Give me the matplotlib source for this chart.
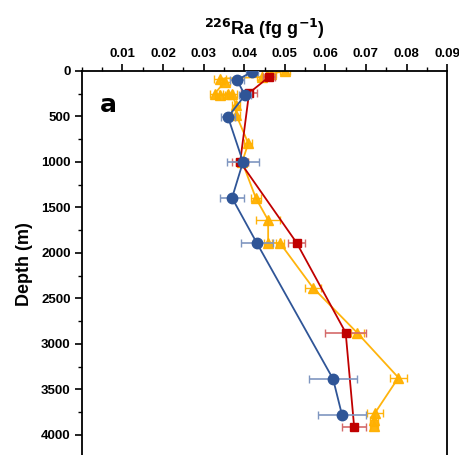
#!/usr/bin/env python
"""226Ra depth profiles, panel a."""

# Third party modules.
import matplotlib
matplotlib.use("Agg")
import matplotlib.pyplot as plt
from matplotlib.ticker import MultipleLocator

# Globals and constants variables.
plt.rcParams['font.family'] = ['Liberation Sans', 'DejaVu Sans']

BLUE = "#2F5597"
RED = "#C00000"
ORANGE = "#FFB000"

# Blue station (circles)
blueRa = [0.0419, 0.0382, 0.0402, 0.0360, 0.0397, 0.0370, 0.0431, 0.0619, 0.0641]
blueErr = [0.0015, 0.0017, 0.0015, 0.0018, 0.0040, 0.0030, 0.0040, 0.0060, 0.0060]
blueDepth_m = [10, 100, 265, 505, 1000, 1395, 1890, 3385, 3780]

# Red station (squares)
redRa = [0.0461, 0.0412, 0.0390, 0.0529, 0.0650, 0.0671]
redErr = [0.0015, 0.0019, 0.0020, 0.0020, 0.0050, 0.0030]
redDepth_m = [66, 242, 1000, 1887, 2875, 3915]

# Orange station (triangles)
orangeRa = [0.0500, 0.0467, 0.0455, 0.0443, 0.0340, 0.0352, 0.0327, 0.0340,
            0.0360, 0.0370, 0.0380, 0.0380, 0.0410, 0.0395, 0.0429, 0.0459,
            0.0459, 0.0488, 0.0569, 0.0679, 0.0780, 0.0722, 0.0720, 0.0720]
orangeErr = [0.0012, 0.0012, 0.0012, 0.0012, 0.0015, 0.0012, 0.0012, 0.0012,
             0.0012, 0.0012, 0.0010, 0.0010, 0.0010, 0.0015, 0.0012, 0.0029,
             0.0010, 0.0010, 0.0020, 0.0017, 0.0020, 0.0020, 0.0010, 0.0010]
orangeDepth_m = [0, 30, 40, 66, 85, 120, 250, 265, 250, 250, 375, 480, 795,
                 1000, 1400, 1640, 1890, 1890, 2380, 2880, 3370, 3760, 3840, 3900]


def doGraphics():
    fig = plt.figure(figsize=(4.6, 4.55), dpi=100)
    ax = fig.add_axes([0.178, -0.006, 0.794, 0.85])

    ax.errorbar(orangeRa, orangeDepth_m, xerr=orangeErr, color=ORANGE, marker='^',
                markersize=7, linewidth=1.3, ecolor=ORANGE, elinewidth=1.0,
                capsize=3, alpha=0.95, zorder=2)
    ax.errorbar(redRa, redDepth_m, xerr=redErr, color=RED, marker='s',
                markersize=6, linewidth=1.3, ecolor="#D46A6A", elinewidth=1.2,
                capsize=3, zorder=3)
    ax.errorbar(blueRa, blueDepth_m, xerr=blueErr, color=BLUE, marker='o',
                markersize=7.5, linewidth=1.3, ecolor="#7F96C0", elinewidth=1.2,
                capsize=3, zorder=4)

    ax.set_xlim(0, 0.09)
    ax.set_ylim(4250, 0)

    ax.xaxis.tick_top()
    ax.xaxis.set_label_position('top')
    ax.xaxis.set_major_locator(MultipleLocator(0.01))
    ax.xaxis.set_minor_locator(MultipleLocator(0.005))
    ax.yaxis.set_major_locator(MultipleLocator(500))
    ax.yaxis.set_minor_locator(MultipleLocator(250))
    ax.set_xticks([0.01, 0.02, 0.03, 0.04, 0.05, 0.06, 0.07, 0.08, 0.09])
    ax.set_xticklabels(["0.01", "0.02", "0.03", "0.04", "0.05", "0.06",
                        "0.07", "0.08", "0.09"])

    ax.tick_params(axis='both', which='major', direction='out', length=5,
                   width=1.2, labelsize=9.5, pad=3)
    ax.tick_params(axis='both', which='minor', direction='out', length=3,
                   width=1.0)
    for label in ax.get_xticklabels() + ax.get_yticklabels():
        label.set_fontweight('bold')
    for spine in ax.spines.values():
        spine.set_linewidth(1.3)

    ax.set_xlabel(r"$\mathbf{^{226}}$Ra (fg g$\mathbf{^{-1}}$)", fontsize=13,
                  fontweight='bold', labelpad=9)
    ax.set_ylabel("Depth (m)", fontsize=13, fontweight='bold', labelpad=6)

    ax.text(0.05, 0.895, "a", transform=ax.transAxes, fontsize=18,
            fontweight='bold', family=['DejaVu Sans'])

    fig.savefig("out.png", dpi=100)


def run():
    doGraphics()


if __name__ == '__main__':
    run()
